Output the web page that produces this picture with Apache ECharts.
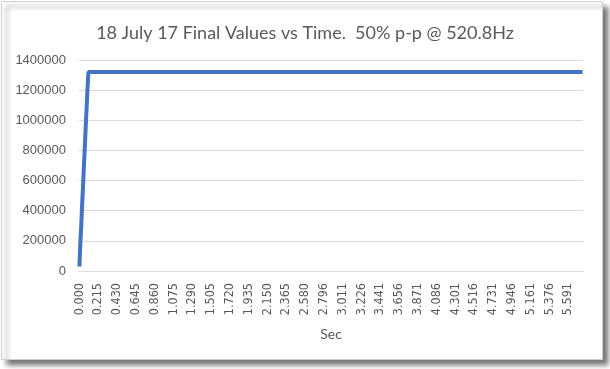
<!DOCTYPE html>
<html>
<head>
<meta charset="utf-8">
<script src="https://cdn.jsdelivr.net/npm/echarts@6/dist/echarts.min.js"></script>
<style>
html,body{margin:0;padding:0;background:#fff;}
#c{width:610px;height:369px;}
</style>
</head>
<body>
<div id="c"></div>
<script>
// ---- data ----
const chartTitle = "18 July 17 Final Values vs Time.  50% p-p @ 520.8Hz";
const xAxisName = "Sec";
const sampleStepSec = 0.01024;          // time between samples (labels every 21 samples = 0.21504 s)
const labelEvery = 21;
const yTicks = [0, 200000, 400000, 600000, 800000, 1000000, 1200000, 1400000];
const xTickLabels = ["0.000","0.215","0.430","0.645","0.860","1.075","1.290","1.505","1.720","1.935","2.150","2.365","2.580","2.796","3.011","3.226","3.441","3.656","3.871","4.086","4.301","4.516","4.731","4.946","5.161","5.376","5.591"];
// rising part
const riseValues = [30000, 190000, 300000, 440000, 560000, 700000, 820000, 960000, 1080000, 1210000];
// flat part
const plateauValues = [
1320000,1320000,1320000,1320000,1320000,1320000,1320000,1320000,1320000,1320000,1320000,1320000,1320000,1320000,1320000,1320000,1320000,1320000,1320000,1320000,1320000,1320000,1320000,1320000,
1320000,1320000,1320000,1320000,1320000,1320000,1320000,1320000,1320000,1320000,1320000,1320000,1320000,1320000,1320000,1320000,1320000,1320000,1320000,1320000,1320000,1320000,1320000,1320000,
1320000,1320000,1320000,1320000,1320000,1320000,1320000,1320000,1320000,1320000,1320000,1320000,1320000,1320000,1320000,1320000,1320000,1320000,1320000,1320000,1320000,1320000,1320000,1320000,
1320000,1320000,1320000,1320000,1320000,1320000,1320000,1320000,1320000,1320000,1320000,1320000,1320000,1320000,1320000,1320000,1320000,1320000,1320000,1320000,1320000,1320000,1320000,1320000,
1320000,1320000,1320000,1320000,1320000,1320000,1320000,1320000,1320000,1320000,1320000,1320000,1320000,1320000,1320000,1320000,1320000,1320000,1320000,1320000,1320000,1320000,1320000,1320000,
1320000,1320000,1320000,1320000,1320000,1320000,1320000,1320000,1320000,1320000,1320000,1320000,1320000,1320000,1320000,1320000,1320000,1320000,1320000,1320000,1320000,1320000,1320000,1320000,
1320000,1320000,1320000,1320000,1320000,1320000,1320000,1320000,1320000,1320000,1320000,1320000,1320000,1320000,1320000,1320000,1320000,1320000,1320000,1320000,1320000,1320000,1320000,1320000,
1320000,1320000,1320000,1320000,1320000,1320000,1320000,1320000,1320000,1320000,1320000,1320000,1320000,1320000,1320000,1320000,1320000,1320000,1320000,1320000,1320000,1320000,1320000,1320000,
1320000,1320000,1320000,1320000,1320000,1320000,1320000,1320000,1320000,1320000,1320000,1320000,1320000,1320000,1320000,1320000,1320000,1320000,1320000,1320000,1320000,1320000,1320000,1320000,
1320000,1320000,1320000,1320000,1320000,1320000,1320000,1320000,1320000,1320000,1320000,1320000,1320000,1320000,1320000,1320000,1320000,1320000,1320000,1320000,1320000,1320000,1320000,1320000,
1320000,1320000,1320000,1320000,1320000,1320000,1320000,1320000,1320000,1320000,1320000,1320000,1320000,1320000,1320000,1320000,1320000,1320000,1320000,1320000,1320000,1320000,1320000,1320000,
1320000,1320000,1320000,1320000,1320000,1320000,1320000,1320000,1320000,1320000,1320000,1320000,1320000,1320000,1320000,1320000,1320000,1320000,1320000,1320000,1320000,1320000,1320000,1320000,
1320000,1320000,1320000,1320000,1320000,1320000,1320000,1320000,1320000,1320000,1320000,1320000,1320000,1320000,1320000,1320000,1320000,1320000,1320000,1320000,1320000,1320000,1320000,1320000,
1320000,1320000,1320000,1320000,1320000,1320000,1320000,1320000,1320000,1320000,1320000,1320000,1320000,1320000,1320000,1320000,1320000,1320000,1320000,1320000,1320000,1320000,1320000,1320000,
1320000,1320000,1320000,1320000,1320000,1320000,1320000,1320000,1320000,1320000,1320000,1320000,1320000,1320000,1320000,1320000,1320000,1320000,1320000,1320000,1320000,1320000,1320000,1320000,
1320000,1320000,1320000,1320000,1320000,1320000,1320000,1320000,1320000,1320000,1320000,1320000,1320000,1320000,1320000,1320000,1320000,1320000,1320000,1320000,1320000,1320000,1320000,1320000,
1320000,1320000,1320000,1320000,1320000,1320000,1320000,1320000,1320000,1320000,1320000,1320000,1320000,1320000,1320000,1320000,1320000,1320000,1320000,1320000,1320000,1320000,1320000,1320000,
1320000,1320000,1320000,1320000,1320000,1320000,1320000,1320000,1320000,1320000,1320000,1320000,1320000,1320000,1320000,1320000,1320000,1320000,1320000,1320000,1320000,1320000,1320000,1320000,
1320000,1320000,1320000,1320000,1320000,1320000,1320000,1320000,1320000,1320000,1320000,1320000,1320000,1320000,1320000,1320000,1320000,1320000,1320000,1320000,1320000,1320000,1320000,1320000,
1320000,1320000,1320000,1320000,1320000,1320000,1320000,1320000,1320000,1320000,1320000,1320000,1320000,1320000,1320000,1320000,1320000,1320000,1320000,1320000,1320000,1320000,1320000,1320000,
1320000,1320000,1320000,1320000,1320000,1320000,1320000,1320000,1320000,1320000,1320000,1320000,1320000,1320000,1320000,1320000,1320000,1320000,1320000,1320000,1320000,1320000,1320000,1320000,
1320000,1320000,1320000,1320000,1320000,1320000,1320000,1320000,1320000,1320000,1320000,1320000,1320000,1320000,1320000,1320000,1320000,1320000,1320000,1320000,1320000,1320000,1320000,1320000,
1320000,1320000,1320000,1320000,1320000,1320000,1320000,1320000,1320000,1320000,1320000,1320000,1320000,1320000,1320000,1320000,1320000,1320000,1320000,1320000,1320000,1320000,1320000,1320000,
1320000
];
const values = riseValues.concat(plateauValues);
// sample times (category names)
const times = values.map((v, i) => (i * sampleStepSec).toFixed(3));

const chart = echarts.init(document.getElementById('c'), null, {renderer: 'canvas'});
const labelFont = "'Liberation Sans Narrow', 'DejaVu Sans Condensed', 'Liberation Sans', sans-serif";
chart.setOption({
  animation: false,
  backgroundColor: '#ffffff',
  graphic: [{
    type: 'rect', z: -100, silent: true,
    shape: {x: 1.5, y: 1.5, width: 601, height: 358},
    style: {fill: '#fff', stroke: '#d0d0d0', lineWidth: 1,
            shadowBlur: 5, shadowOffsetX: 5, shadowOffsetY: 5, shadowColor: 'rgba(0,0,0,0.55)'}
  }],
  title: {
    text: chartTitle,
    left: 'center',
    top: 19,
    textStyle: {fontFamily: "Lato, 'Open Sans', sans-serif", fontSize: 18, fontWeight: 'normal', color: '#595959'}
  },
  grid: {left: 79, right: 27, top: 60, bottom: 98, containLabel: false},
  xAxis: {
    type: 'category',
    data: times,
    boundaryGap: true,
    name: xAxisName,
    nameLocation: 'middle',
    nameGap: 56,
    nameTextStyle: {fontFamily: "Lato, 'Open Sans', sans-serif", fontSize: 14, color: '#595959'},
    axisLine: {lineStyle: {color: '#d9d9d9', width: 1}},
    axisTick: {show: false},
    axisLabel: {
      interval: labelEvery - 1,
      rotate: 90,
      margin: 12,
      fontFamily: labelFont,
      fontSize: 12.5,
      color: '#595959',
      formatter: (v, i) => xTickLabels[Math.round(i / labelEvery)] || v
    },
    splitLine: {show: false}
  },
  yAxis: {
    type: 'value',
    min: yTicks[0],
    max: yTicks[yTicks.length - 1],
    interval: yTicks[1] - yTicks[0],
    axisLine: {show: false},
    axisTick: {show: false},
    axisLabel: {margin: 13, fontFamily: "Liberation Sans", fontSize: 13, color: '#595959',
                formatter: v => String(v)},
    splitLine: {lineStyle: {color: '#d9d9d9', width: 1}}
  },
  series: [{
    type: 'line',
    data: values,
    symbol: 'none',
    lineStyle: {color: '#4472C4', width: 4},
    itemStyle: {color: '#4472C4'}
  }]
});
</script>
</body>
</html>
